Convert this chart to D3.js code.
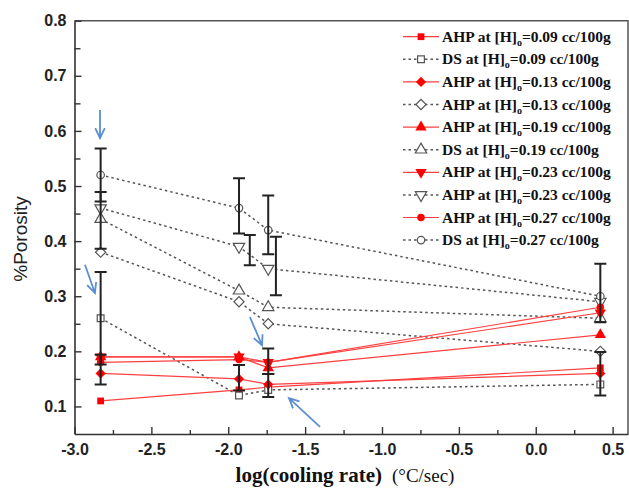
<!DOCTYPE html>
<html>
<head>
<meta charset="utf-8">
<script src="https://cdn.jsdelivr.net/npm/d3@7"></script>
<style>
  body { margin: 0; background: #fff; }
  svg { display: block; }
</style>
</head>
<body>
<div id="chart"></div>
<script>
'use strict';

// log(cooling rate) of the four casting conditions
const coolingRate = [-2.83, -1.93, -1.74, 0.42];

// %porosity, one array per series (AHP = red solid, DS = grey dotted)
const ahp009 = [0.11, 0.13, 0.135, 0.17];
const ds009  = [0.26, 0.12, 0.13, 0.14];
const ahp013 = [0.16, 0.15, 0.14, 0.16];
const ds013  = [0.38, 0.29, 0.25, 0.20];
const ahp019 = [0.19, 0.19, 0.17, 0.23];
const ds019  = [0.44, 0.31, 0.28, 0.26];
const ahp023 = [0.19, 0.19, 0.18, 0.27];
const ds023  = [0.46, 0.39, 0.35, 0.29];
const ahp027 = [0.18, 0.185, 0.18, 0.28];
const ds027  = [0.52, 0.46, 0.42, 0.30];

const legendMethod = ['AHP', 'DS', 'AHP', 'AHP', 'AHP', 'DS', 'AHP', 'AHP', 'AHP', 'DS'];
const legendH0 = ['0.09', '0.09', '0.13', '0.13', '0.19', '0.19', '0.23', '0.23', '0.27', '0.27'];

// error bars
const errX  = [-2.83, -2.83, -2.83, -2.83, -1.93, -1.86, -1.93, -1.74, -1.69, -1.74, -1.74, 0.42, 0.42];
const errLo = [0.472, 0.386, 0.176, 0.14, 0.414, 0.356, 0.129, 0.376, 0.302, 0.159, 0.117, 0.253, 0.12];
const errHi = [0.568, 0.489, 0.344, 0.194, 0.514, 0.411, 0.175, 0.483, 0.408, 0.205, 0.159, 0.359, 0.199];

// blue annotation arrows (data units)
const arrowFromX = [-2.834, -2.932, -1.859, -1.403];
const arrowFromY = [0.638, 0.357, 0.262, 0.063];
const arrowToX   = [-2.834, -2.867, -1.780, -1.605];
const arrowToY   = [0.587, 0.306, 0.211, 0.115];

const xTicks = [-3.0, -2.5, -2.0, -1.5, -1.0, -0.5, 0.0, 0.5];
const yTicks = [0.1, 0.2, 0.3, 0.4, 0.5, 0.6, 0.7, 0.8];

const W = 629, H = 489;
const x = d3.scaleLinear().domain([-3.0, 0.6]).range([74.5, 628]);
const y = d3.scaleLinear().domain([0.05, 0.8]).range([434, 20.7]);

const svg = d3.select('#chart').append('svg')
    .attr('width', W).attr('height', H)
    .style('background', '#fff');

const RED = '#ff0000', RED_LINE = '#ff4040', GREY = '#555';
const shapes = ['square', 'square', 'diamond', 'diamond', 'up', 'up', 'down', 'down', 'circle', 'circle'];
const allValues = [ahp009, ds009, ahp013, ds013, ahp019, ds019, ahp023, ds023, ahp027, ds027];
const series = allValues.map((v, i) => ({
  values: v,
  filled: i % 2 === 0,
  shape: shapes[i]
}));

function symbolPath(shape) {
  if (shape === 'square') return d3.symbol(d3.symbolSquare, 46)();
  if (shape === 'diamond') return d3.symbol(d3.symbolSquare, 52)();
  if (shape === 'circle') return d3.symbol(d3.symbolCircle, 44)();
  return d3.symbol(d3.symbolTriangle, 56)();
}
function symbolRot(shape) {
  if (shape === 'diamond') return 45;
  if (shape === 'down') return 180;
  return 0;
}

// frame
svg.append('path')
    .attr('d', `M${x.range()[0]},${y.range()[1]}H${x.range()[1]}V${y.range()[0]}`)
    .attr('fill', 'none').attr('stroke', '#555').attr('stroke-width', 1.5);

// axes
svg.append('g')
    .attr('transform', `translate(0,${y.range()[0]})`)
    .call(d3.axisBottom(x).tickValues(xTicks).tickFormat(d => d.toFixed(1))
      .tickSizeInner(-7).tickSizeOuter(0).tickPadding(10));
svg.append('g')
    .attr('transform', `translate(0,${y.range()[0]})`)
    .call(d3.axisBottom(x).tickValues(d3.range(-2.75, 0.6, 0.5)).tickFormat('')
      .tickSizeInner(-4).tickSizeOuter(0))
    .call(g => g.select('.domain').remove());

svg.append('g')
    .attr('transform', `translate(${x.range()[0]},0)`)
    .call(d3.axisLeft(y).tickValues(yTicks).tickFormat(d => d.toFixed(1))
      .tickSizeInner(-7).tickSizeOuter(0).tickPadding(8));
svg.append('g')
    .attr('transform', `translate(${x.range()[0]},0)`)
    .call(d3.axisLeft(y).tickValues(d3.range(0.15, 0.8, 0.1)).tickFormat('')
      .tickSizeInner(-6).tickSizeOuter(0))
    .call(g => g.select('.domain').remove());

svg.selectAll('.domain').attr('stroke', '#333').attr('stroke-width', 1.6);
svg.selectAll('.tick line').attr('stroke', '#333').attr('stroke-width', 1.4);
svg.selectAll('.tick text')
    .attr('fill', '#222')
    .style('font-family', '"Liberation Sans", Arial, sans-serif')
    .style('font-weight', 'bold')
    .style('font-size', '16px');

// axis titles
svg.append('text')
    .attr('transform', `translate(27,239) rotate(-90)`)
    .attr('text-anchor', 'middle')
    .style('font-family', '"Liberation Sans", Arial, sans-serif')
    .style('font-size', '19px')
    .attr('fill', '#222')
    .text('%Porosity');

const xt = svg.append('text')
    .attr('x', 345).attr('y', 482)
    .attr('text-anchor', 'middle')
    .style('font-family', '"Liberation Serif", "Times New Roman", serif')
    .attr('fill', '#111');
xt.append('tspan').style('font-weight', 'bold').style('font-size', '21px').text('log(cooling rate)');
xt.append('tspan').style('font-size', '19px').attr('dx', 10).text('(\u00B0C/sec)');

// series lines
const line = d3.line().x((d, i) => x(coolingRate[i])).y(d => y(d));
const lineG = svg.append('g');
series.filter(s => !s.filled).forEach(s => {
  lineG.append('path').datum(s.values).attr('d', line)
      .attr('fill', 'none').attr('stroke', GREY)
      .attr('stroke-width', 1.5).attr('stroke-dasharray', '2.5,3');
});
series.filter(s => s.filled).forEach(s => {
  lineG.append('path').datum(s.values).attr('d', line)
      .attr('fill', 'none').attr('stroke', RED_LINE).attr('stroke-width', 1.2);
});

// markers
series.forEach(s => {
  svg.append('g').selectAll('path')
    .data(s.values)
    .join('path')
      .attr('d', symbolPath(s.shape))
      .attr('transform', (d, i) => `translate(${x(coolingRate[i])},${y(d)}) rotate(${symbolRot(s.shape)})`)
      .attr('fill', s.filled ? RED : '#fff')
      .attr('stroke', s.filled ? 'none' : GREY)
      .attr('stroke-width', 1.2);
});

// error bars
const eb = svg.append('g').attr('stroke', '#222').attr('stroke-width', 2).attr('fill', 'none');
errX.forEach((ex, i) => {
  const cx = x(ex);
  eb.append('path')
    .attr('d', `M${cx},${y(errLo[i])}V${y(errHi[i])}M${cx - 6},${y(errHi[i])}H${cx + 6}M${cx - 6},${y(errLo[i])}H${cx + 6}`);
});

// annotation arrows
const ag = svg.append('g').attr('stroke', '#5b8fd2').attr('stroke-width', 1.8).attr('fill', 'none');
arrowFromX.forEach((fx, i) => {
  const x1 = x(fx), y1 = y(arrowFromY[i]), x2 = x(arrowToX[i]), y2 = y(arrowToY[i]);
  const a = Math.atan2(y1 - y2, x1 - x2), L = 11, sp = 0.45;
  ag.append('path').attr('d',
    `M${x1},${y1}L${x2},${y2}` +
    `M${x2 + L * Math.cos(a - sp)},${y2 + L * Math.sin(a - sp)}L${x2},${y2}` +
    `L${x2 + L * Math.cos(a + sp)},${y2 + L * Math.sin(a + sp)}`);
});

// legend
const leg = svg.append('g');
series.forEach((s, i) => {
  const ly = 36.7 + i * 22.6;
  const row = leg.append('g').attr('transform', `translate(0,${ly})`);
  row.append('line').attr('x1', 403).attr('x2', 439)
      .attr('stroke', s.filled ? RED_LINE : GREY)
      .attr('stroke-width', s.filled ? 1.2 : 1.5)
      .attr('stroke-dasharray', s.filled ? null : '2.5,3');
  row.append('path').attr('d', symbolPath(s.shape))
      .attr('transform', `translate(421,0) rotate(${symbolRot(s.shape)})`)
      .attr('fill', s.filled ? RED : '#fff')
      .attr('stroke', s.filled ? 'none' : GREY).attr('stroke-width', 1.2);
  const t = row.append('text').attr('x', 442).attr('y', 5)
      .style('font-family', '"Liberation Serif", "Times New Roman", serif')
      .style('font-weight', 'bold').style('font-size', '15.5px').attr('fill', '#111');
  t.append('tspan').text(`${legendMethod[i]} at [H]`);
  t.append('tspan').attr('dy', 4).style('font-size', '10px').text('o');
  t.append('tspan').attr('dy', -4).text(`=${legendH0[i]} cc/100g`);
});
</script>
</body>
</html>
